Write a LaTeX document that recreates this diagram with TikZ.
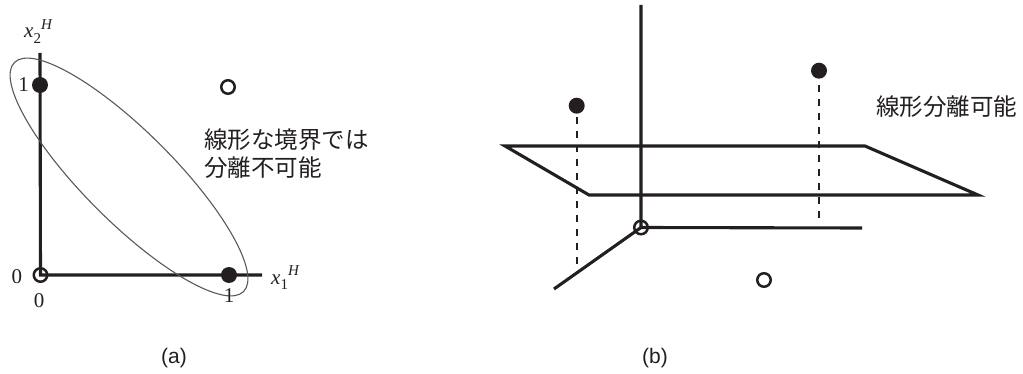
\documentclass[tikz,border=0pt]{standalone}
\usepackage{fontspec}
\setmainfont{Liberation Serif}
\newfontfamily\cjk{Noto Sans CJK JP}
\newfontfamily\capsans{Liberation Sans}
\definecolor{ink}{HTML}{231F20}
\newcommand\varxH[1]{{\itshape x}\raisebox{-0.25em}{\fontsize{15}{15}\selectfont #1}\raisebox{0.42em}{\fontsize{15}{15}\selectfont\itshape H}}
\begin{document}
\begin{tikzpicture}[x=1pt,y=-1pt,
  axis/.style={line width=3.1pt, draw=ink, line cap=butt, line join=miter},
  fdot/.style={circle, fill=ink, inner sep=0pt, minimum size=16pt},
  odot/.style={circle, draw=ink, line width=2.5pt, inner sep=0pt, minimum size=13.5pt},
  proj/.style={line width=1.6pt, draw=ink, dash pattern=on 7pt off 7pt},
  ell/.style={draw=black!65, line width=1.1pt},
  num/.style={font=\fontsize{21}{21}\selectfont, text=ink, inner sep=0pt},
  jp/.style={font=\cjk\fontsize{23.5}{28}\selectfont, text=ink, inner sep=0pt, align=left},
  captxt/.style={font=\capsans\fontsize{21}{21}\selectfont, text=ink, inner sep=0pt}]
\useasboundingbox (0,0) rectangle (1023,374);

% ---------- panel (a) ----------
\coordinate (ya) at (40,53);
\coordinate (xa) at (262,275);
\node[odot] (oa) at (40.5,275) {};
\draw[axis] (ya) -- (oa.center) -- (xa);
\node[fdot] (a01) at (40,85) {};
\node[fdot] (a10) at (229,275) {};
\node[odot] (a11) at (228,87) {};
\draw[ell] (129,177) circle [x radius=162, y radius=45, rotate=-45];
\node[num] (l1y) at (23.5,85) {1};
\node[num] (l0y) at (17,277) {0};
\node[num] (l0x) at (39,301) {0};
\node[num] (l1x) at (229,296) {1};
\node[num, anchor=base west] (lx1) at (271,284) {\varxH{1}};
\node[num, anchor=base west] (lx2) at (24,38) {\varxH{2}};
\node[jp, anchor=west] (ta) at (204,154) {線形な境界では\\分離不可能};
\node[captxt] (capa) at (174,358) {(a)};

% ---------- panel (b) ----------
\coordinate (P1) at (505,146);
\coordinate (P2) at (865,146);
\coordinate (P3) at (978,195);
\coordinate (P4) at (589,195);
\coordinate (yb) at (641,5);
\coordinate (xb) at (862,228);
\coordinate (zb) at (554,289);
\node[fdot] (b1) at (576.7,105.7) {};
\node[fdot] (b2) at (819,70.7) {};
\coordinate (b1f) at (576.7,268);
\coordinate (b2f) at (819,221);
\draw[proj] ([yshift=-3pt]b1.south) -- (b1f);
\draw[proj] ([yshift=-6pt]b2.south) -- (b2f);
\draw[axis] (P1) -- (P2) -- (P3) -- (P4) -- cycle;
\node[odot] (ob) at (641,227.5) {};
\draw[axis] (yb) -- (ob.center) -- (xb);
\draw[axis] (ob.center) -- (zb);
\node[odot] (b0) at (764,280) {};
\node[jp, anchor=west] (tb) at (876,107) {線形分離可能};
\node[captxt] (capb) at (655,358) {(b)};
\end{tikzpicture}
\end{document}
